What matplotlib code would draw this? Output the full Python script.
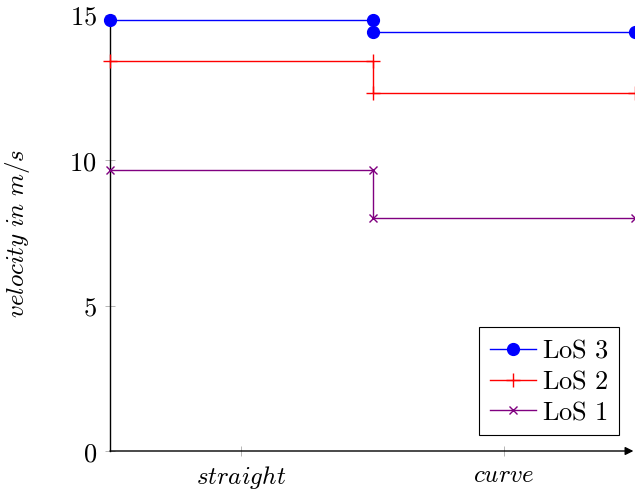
import matplotlib
matplotlib.use('Agg')
import matplotlib.pyplot as plt

plt.rcParams['mathtext.fontset'] = 'cm'
plt.rcParams['font.family'] = 'serif'
plt.rcParams['font.serif'] = ['DejaVu Serif']

# step positions (segment boundaries) and velocities
x_steps = [0, 1, 1, 2]
los3 = [14.83, 14.83, 14.41, 14.41]
los2 = [13.42, 13.42, 12.32, 12.32]
los1 = [9.67, 9.67, 8.02, 8.02]

tick_pos = [0.5, 1.5]
tick_labels = ['straight', 'curve']
y_ticks = [0, 5, 10, 15]

fig = plt.figure(figsize=(6.35, 4.93), dpi=100)
ax = fig.add_axes([110 / 635, 42 / 493, 525 / 635, 436 / 493])

ax.plot(x_steps, los3, color='#0000ff', lw=1.0, marker='o', ms=8.5,
        label=r'$\mathrm{LoS\ 3}$', clip_on=False, zorder=5)
ax.plot(x_steps, los2, color='#ff0000', lw=1.0, marker='+', ms=10, mew=1.0,
        label=r'$\mathrm{LoS\ 2}$', clip_on=False, zorder=4)
ax.plot(x_steps, los1, color='#800080', lw=1.0, marker='x', ms=5.5, mew=1.0,
        label=r'$\mathrm{LoS\ 1}$', clip_on=False, zorder=4)

ax.set_xlim(0, 2)
ax.set_ylim(0, 15)

ax.spines['top'].set_visible(False)
ax.spines['right'].set_visible(False)
ax.spines['bottom'].set_visible(False)
ax.spines['left'].set_linewidth(1.0)
ax.annotate('', xy=(0.997, 0), xytext=(0, 0), xycoords='axes fraction',
            arrowprops=dict(arrowstyle='-|>', color='black', lw=1.0,
                            mutation_scale=12, shrinkA=0, shrinkB=0))

ax.set_xticks(tick_pos)
ax.set_xticklabels([r'$%s$' % t for t in tick_labels])
ax.set_yticks(y_ticks)
ax.set_yticklabels([r'$%d$' % v for v in y_ticks])
ax.tick_params(direction='inout', length=7, width=0.6, color='#aaaaaa',
               labelsize=19, pad=6)
ax.tick_params(axis='x', labelsize=18)

ax.set_ylabel(r'$velocity\ in\ m/s$', fontsize=18)
ax.yaxis.set_label_coords(-0.149, 0.5)

leg = ax.legend(loc='lower right', fontsize=19, frameon=True, fancybox=False,
                edgecolor='black', framealpha=1, borderpad=0.4,
                handlelength=1.75, handletextpad=0.25, labelspacing=0.22,
                borderaxespad=0.6)
leg.get_frame().set_linewidth(0.8)

fig.savefig('out.png', dpi=100)
